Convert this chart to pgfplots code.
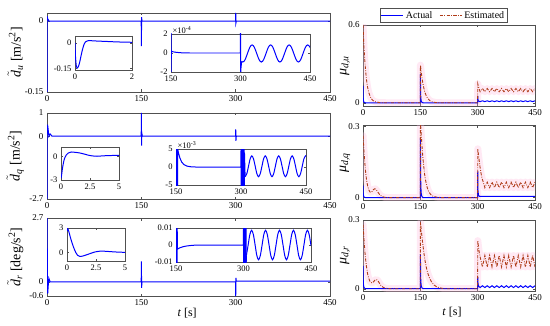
\documentclass[border=0pt]{standalone}
\usepackage{fontspec}
\setmainfont{Liberation Serif}
\usepackage{pgfplots}
\usepackage{pgfplotstable}
\pgfplotsset{compat=1.18}
\definecolor{est}{RGB}{175,60,25}
\definecolor{bandc}{RGB}{255,185,220}
\definecolor{frm}{RGB}{80,80,80}

\pgfplotstableread{
t v
0 0.6
1 0.53
2 0.46
3 0.4
5 0.31
7 0.24
9 0.18
12 0.12
15 0.08
18 0.055
21 0.035
25 0.02
30 0.01
35 0.005
45 0.001
60 0
149.8 0
150.3 0.29
151 0.27
153 0.22
156 0.16
159 0.115
162 0.08
166 0.05
170 0.03
175 0.016
180 0.008
190 0.002
205 0
299.8 0
300.3 0.145
302 0.125
304 0.105
306.25 0.085
312.5 0.11
318.75 0.085
325 0.11
331.25 0.085
337.5 0.11
343.75 0.085
350 0.11
356.25 0.085
362.5 0.11
368.75 0.085
375 0.11
381.25 0.085
387.5 0.11
393.75 0.085
400 0.11
406.25 0.085
412.5 0.11
418.75 0.085
425 0.11
431.25 0.085
437.5 0.11
443.75 0.085
450 0.11
}\estA

\pgfplotstableread{
t v
0 0.26
1 0.235
2 0.21
3 0.185
5 0.14
7 0.105
9 0.078
12 0.05
15 0.033
18 0.024
21 0.022
24 0.026
27 0.033
30 0.037
33 0.036
37 0.028
41 0.018
45 0.01
50 0.005
57 0.001
70 0
149.8 0
150.3 0.315
151 0.3
153 0.25
155 0.2
158 0.145
161 0.1
164 0.07
168 0.042
172 0.025
177 0.013
183 0.006
192 0.002
205 0
299.8 0
300.3 0.205
302 0.18
304 0.155
306 0.13
309 0.1
312 0.078
315 0.063
318.75 0.042
325 0.065
331.25 0.042
337.5 0.065
343.75 0.042
350 0.065
356.25 0.042
362.5 0.065
368.75 0.042
375 0.065
381.25 0.042
387.5 0.065
393.75 0.042
400 0.065
406.25 0.042
412.5 0.065
418.75 0.042
425 0.065
431.25 0.042
437.5 0.065
443.75 0.042
450 0.065
}\estB

\pgfplotstableread{
t v
0 0.28
1 0.255
2 0.23
3 0.205
5 0.16
7 0.125
9 0.097
12 0.065
15 0.045
18 0.033
21 0.027
24 0.025
27 0.03
31 0.037
35 0.04
39 0.035
43 0.024
47 0.014
52 0.007
57 0.003
70 0
149.8 0
150.3 0.29
151 0.28
153 0.245
156 0.2
159 0.16
162 0.125
166 0.09
170 0.065
175 0.043
180 0.028
186 0.016
193 0.008
200 0.004
210 0.001
220 0
299.8 0
300.3 0.21
302 0.185
304 0.16
306.25 0.14
312.5 0.095
318.75 0.145
325 0.095
331.25 0.145
337.5 0.095
343.75 0.145
350 0.095
356.25 0.145
362.5 0.095
368.75 0.145
375 0.095
381.25 0.145
387.5 0.095
393.75 0.145
400 0.095
406.25 0.145
412.5 0.095
418.75 0.145
425 0.095
431.25 0.145
437.5 0.095
443.75 0.145
450 0.095
}\estC

\pgfplotsset{
  base/.style={scale only axis, enlargelimits=false, clip=true,
    axis line style={frm, line width=0.5pt},
    tick style={frm, line width=0.4pt}, tick align=inside,
    major tick length=2.5bp,
    /pgf/number format/assume math mode=true,
    every tick label/.append style={font=\fontsize{9}{10}\selectfont, text=black},
    axis background/.style={fill=white},
    ylabel style={font=\fontsize{14}{15}\selectfont},
    xlabel style={font=\fontsize{12}{13}\selectfont}},
  main/.style={base, xmin=0, xmax=450, xtick={0,150,300,450}, xticklabels={0,150,300,450}},
  inset/.style={base, major tick length=2bp,
    every tick label/.append style={font=\fontsize{8.5}{9}\selectfont}},
  bl/.style={blue, line width=1pt},
  es/.style={est, line width=0.9pt, dash pattern=on 3.2bp off 1.4bp on 0.8bp off 1.4bp},
  bd/.style={bandc, line width=7bp, opacity=0.3, line join=round, line cap=round, forget plot},
}

\begin{document}
\begin{tikzpicture}[x=1bp,y=1bp]
\useasboundingbox (0,0) rectangle (550,325);

% ---------------- Left panel 1 ----------------
\begin{axis}[main, at={(47bp,233bp)}, anchor=south west, width=283bp, height=79bp,
  ymin=-0.15, ymax=0.017, ytick={-0.15,0}, yticklabels={-0.15,0},
  ylabel={$\tilde{\mathit{d}}_{\mathit{u}}$ [m/s\textsuperscript{2}]},
  ylabel style={at={(axis description cs:-0.112,0.5)}, anchor=center}]
\addplot[bl] coordinates {(0,0.008)(0.05,-0.15)(0.3,0.01)(1,0.005)(3,0)(149.8,0)(150.1,-0.053)(150.4,0.008)(151,0)(299.8,0)(300.1,0.017)(300.4,-0.004)(301,0)(450,0)};
\end{axis}
\begin{axis}[inset, at={(75bp,255bp)}, anchor=south west, width=57bp, height=34bp,
  xmin=0, xmax=2, ymin=-0.16, ymax=0.04, xtick={0,2}, xticklabels={0,2},
  ytick={-0.15,0}, yticklabels={-0.15,0}]
\addplot[bl, smooth] coordinates {(0,0)(0.02,-0.09)(0.05,-0.14)(0.08,-0.148)(0.12,-0.14)(0.17,-0.11)(0.22,-0.07)(0.27,-0.035)(0.32,-0.008)(0.37,0.006)(0.45,0.012)(0.6,0.012)(0.8,0.01)(1.1,0.008)(1.5,0.005)(2,0.003)};
\end{axis}
\begin{axis}[inset, name=p1i2, at={(171bp,253bp)}, anchor=south west, width=139bp, height=38bp,
  xmin=150, xmax=450, ymin=-2, ymax=2, xtick={150,300,450}, xticklabels={150,300,450},
  ytick={-2,0,2}, yticklabels={-2,0,2}]
\addplot[bl] coordinates {(150,-2.5)(150.2,2.5)(150.4,-2.5)(150.6,0.3)(152,0.15)(155,0.12)(160,0.08)(170,0.03)(180,0.01)(190,0)(299.9,0)(300,2.5)(300.3,-2.5)(301,-1.6)(302.5,-0.88)};
\addplot[bl, smooth] coordinates {(302.5,-0.88)(305,-0.95)(307.5,-0.88)(310,-0.69)(312.5,-0.39)(315,-0.05)(317.5,0.29)(320,0.59)(322.5,0.78)(325,0.85)(327.5,0.78)(330,0.59)(332.5,0.29)(335,-0.05)(337.5,-0.39)(340,-0.69)(342.5,-0.88)(345,-0.95)(347.5,-0.88)(350,-0.69)(352.5,-0.39)(355,-0.05)(357.5,0.29)(360,0.59)(362.5,0.78)(365,0.85)(367.5,0.78)(370,0.59)(372.5,0.29)(375,-0.05)(377.5,-0.39)(380,-0.69)(382.5,-0.88)(385,-0.95)(387.5,-0.88)(390,-0.69)(392.5,-0.39)(395,-0.05)(397.5,0.29)(400,0.59)(402.5,0.78)(405,0.85)(407.5,0.78)(410,0.59)(412.5,0.29)(415,-0.05)(417.5,-0.39)(420,-0.69)(422.5,-0.88)(425,-0.95)(427.5,-0.88)(430,-0.69)(432.5,-0.39)(435,-0.05)(437.5,0.29)(440,0.59)(442.5,0.78)(445,0.85)(447.5,0.78)(450,0.59)};
\end{axis}
\node[anchor=south west, inner sep=0.5bp, font=\fontsize{8.5}{9}\selectfont] at ([xshift=1bp]p1i2.north west) {×10\textsuperscript{-4}};

% ---------------- Left panel 2 ----------------
\begin{axis}[main, at={(47bp,126bp)}, anchor=south west, width=283bp, height=86bp,
  ymin=-2.7, ymax=1, ytick={-2.7,0,1}, yticklabels={-2.7,0,1},
  ylabel={$\tilde{\mathit{d}}_{\mathit{q}}$ [m/s\textsuperscript{2}]},
  ylabel style={at={(axis description cs:-0.112,0.5)}, anchor=center}]
\addplot[bl] coordinates {(0,-2.7)(0.4,0.1)(0.9,0.5)(2,0.25)(3,0)(5,0.1)(8,0)(149.8,0)(150.1,1)(150.4,-0.4)(150.8,0.15)(151.5,0)(299.8,0)(300.1,0.3)(300.4,-0.2)(301,0)(450,0)};
\end{axis}
\begin{axis}[inset, at={(61bp,145bp)}, anchor=south west, width=58bp, height=33bp,
  xmin=0, xmax=5, ymin=-3, ymax=1.17, xtick={0,2.5,5}, xticklabels={0,2.5,5},
  ytick={-3,0}, yticklabels={-3,0}]
\addplot[bl, smooth] coordinates {(0,-2.8)(0.05,-2.4)(0.1,-1.8)(0.2,-0.9)(0.3,-0.3)(0.45,0.15)(0.6,0.38)(0.9,0.54)(1.2,0.5)(1.6,0.42)(2,0.28)(2.4,0.12)(2.8,0.03)(3.1,0.0)(3.5,0.04)(4,0.08)(4.5,0.1)(5,0.1)};
\end{axis}
\begin{axis}[inset, name=p2i2, at={(176bp,140bp)}, anchor=south west, width=130bp, height=36bp,
  xmin=150, xmax=450, ymin=-5, ymax=5, xtick={150,300,450}, xticklabels={150,300,450},
  ytick={-5,0,5}, yticklabels={-5,0,5}]
\addplot[bl] coordinates {(150,-5.5)(150.3,5.5)(150.6,-5.5)(150.9,5.5)(151.2,-5.5)(151.5,5.5)(151.8,-5.5)(152.1,5.5)(152.4,-5.5)(152.7,5.5)(153,-5.5)(153.3,5.5)(153.6,-5.5)(154,5)(156,3.8)(159,2.5)(163,1.4)(168,0.7)(175,0.25)(185,0.05)(195,0)(299.9,0)(300,5.5)(300.4,-5.5)(300.8,5.5)(301.2,-5.5)(301.6,5.5)(302,-5.5)(302.4,5.5)(302.8,-5.5)(303.2,5.5)(303.6,-5.5)(304,5.5)(304.4,-5.5)(304.8,5.5)(305.2,-5.5)(305.6,5.5)(306,-5.5)(306.4,5.5)(306.8,-5.5)(307.2,5.5)(307.6,-5.5)(308,4)(309.5,-2.7)};
\addplot[bl, smooth] coordinates {(309.5,-2.7)(313.4,-1.85)(317.3,0.2)(321.1,2.25)(325,3.1)(328.9,2.25)(332.8,0.2)(336.6,-1.85)(340.5,-2.7)(344.4,-1.85)(348.3,0.2)(352.1,2.25)(356,3.1)(359.9,2.25)(363.8,0.2)(367.6,-1.85)(371.5,-2.7)(375.4,-1.85)(379.3,0.2)(383.1,2.25)(387,3.1)(390.9,2.25)(394.8,0.2)(398.6,-1.85)(402.5,-2.7)(406.4,-1.85)(410.3,0.2)(414.1,2.25)(418,3.1)(421.9,2.25)(425.8,0.2)(429.6,-1.85)(433.5,-2.7)(437.4,-1.85)(441.3,0.2)(445.1,2.25)(449,3.1)(450,3.0)};
\end{axis}
\node[anchor=south west, inner sep=0.5bp, font=\fontsize{8.5}{9}\selectfont] at ([xshift=1bp]p2i2.north west) {×10\textsuperscript{-3}};

% ---------------- Left panel 3 ----------------
\begin{axis}[main, at={(47bp,29bp)}, anchor=south west, width=283bp, height=78bp,
  ymin=-0.6, ymax=2.7, ytick={-0.6,0,2.7}, yticklabels={-0.6,0,2.7},
  ylabel={$\tilde{\mathit{d}}_{\mathit{r}}$ [deg/s\textsuperscript{2}]},
  ylabel style={at={(axis description cs:-0.112,0.5)}, anchor=center},
  xlabel={\textit{t} [s]},
  xlabel style={at={(axis description cs:0.495,-0.218)}, anchor=center}]
\addplot[bl] coordinates {(0,-0.5)(0.05,2.7)(0.3,1.8)(0.75,0)(1.1,-0.5)(2,-0.15)(2.9,0.15)(5,0)(149.8,0)(150.1,0.86)(150.4,-0.26)(151,0)(299.8,0)(300.1,-0.6)(300.4,0.17)(301,0.03)(450,0.03)};
\end{axis}
\begin{axis}[inset, at={(67bp,64bp)}, anchor=south west, width=58bp, height=33bp,
  xmin=0, xmax=5, ymin=-1.07, ymax=3, xtick={0,2.5,5}, xticklabels={0,2.5,5},
  ytick={0,3}, yticklabels={0,3}]
\addplot[bl, smooth] coordinates {(0,2.6)(0.05,2.95)(0.15,2.6)(0.3,1.8)(0.45,1.1)(0.6,0.5)(0.75,0.0)(0.9,-0.35)(1.1,-0.5)(1.3,-0.48)(1.6,-0.35)(2,-0.15)(2.4,0.04)(2.9,0.15)(3.4,0.12)(4,0.06)(4.5,0.02)(5,0.0)};
\end{axis}
\begin{axis}[inset, at={(176bp,63bp)}, anchor=south west, width=135bp, height=34bp,
  xmin=150, xmax=450, ymin=-10, ymax=10, xtick={150,300,450}, xticklabels={150,300,450},
  ytick={-10,0,10}, yticklabels={-0.01,0,0.01}]
\addplot[bl] coordinates {(150,-11)(150.3,11)(150.6,-11)(150.9,11)(151.2,-11)(151.5,11)(151.8,-11)(152.1,11)(152.4,-11)(152.7,11)(153,-2.5)(156,-2)(160,-1.5)(166,-1)(173,-0.6)(182,-0.3)(192,-0.1)(200,0)(299.9,0)(300,11)(300.4,-11)(300.8,11)(301.2,-11)(301.6,11)(302,-11)(302.4,11)(302.8,-11)(303.2,11)(303.6,-11)(304,11)(304.4,-11)(304.8,11)(305.2,-11)(305.6,11)(306,-11)(306.4,-6.15)};
\addplot[bl, smooth] coordinates {(306.4,-6.15)(310.3,0)(314.1,6.15)(318,8.7)(321.9,6.15)(325.8,0)(329.6,-6.15)(333.5,-8.7)(337.4,-6.15)(341.3,0)(345.1,6.15)(349,8.7)(352.9,6.15)(356.8,0)(360.6,-6.15)(364.5,-8.7)(368.4,-6.15)(372.3,0)(376.1,6.15)(380,8.7)(383.9,6.15)(387.8,0)(391.6,-6.15)(395.5,-8.7)(399.4,-6.15)(403.3,0)(407.1,6.15)(411,8.7)(414.9,6.15)(418.8,0)(422.6,-6.15)(426.5,-8.7)(430.4,-6.15)(434.3,0)(438.1,6.15)(442,8.7)(445.9,6.15)(449.8,0)(450,-0.2)};
\end{axis}

% ---------------- Right panel 1 ----------------
\begin{axis}[main, at={(363bp,219bp)}, anchor=south west, width=172bp, height=81bp,
  ymin=-0.025, ymax=0.6, ytick={0,0.6}, yticklabels={0,0.6},
  ylabel={\textit{μ}\textsubscript{\textit{d,u}}},
  ylabel style={at={(axis description cs:-0.105,0.5)}, anchor=center},
  legend columns=2,
  legend style={at={(axis description cs:0.468,1.025)}, anchor=south,
    font=\fontsize{10}{11}\selectfont, draw=frm, line width=0.5pt,
    inner sep=1bp, row sep=-1bp,
    /tikz/every even column/.append style={column sep=5bp}},
  legend image code/.code={\draw[#1] (0bp,0bp) -- (22bp,0bp);}]
\addplot[bd] table[x=t,y=v] {\estA};
\addplot[bl] coordinates {(0,0.13)(0.5,0.04)(1.5,0.01)(3,0.003)(6,0)(149.8,0)(150.2,0.22)(150.8,0.06)(152,0.015)(154,0.003)(157,0)(299.8,0)(300.2,0.05)(301,0.02)(303,0.012)(306.25,0.009)(312.5,0.015)(318.75,0.009)(325,0.015)(331.25,0.009)(337.5,0.015)(343.75,0.009)(350,0.015)(356.25,0.009)(362.5,0.015)(368.75,0.009)(375,0.015)(381.25,0.009)(387.5,0.015)(393.75,0.009)(400,0.015)(406.25,0.009)(412.5,0.015)(418.75,0.009)(425,0.015)(431.25,0.009)(437.5,0.015)(443.75,0.009)(450,0.015)};
\addlegendentry{Actual}
\addplot[es] table[x=t,y=v] {\estA};
\addlegendentry{Estimated}
\end{axis}

% ---------------- Right panel 2 ----------------
\begin{axis}[main, at={(363bp,125bp)}, anchor=south west, width=172bp, height=75bp,
  ymin=-0.01, ymax=0.305, ytick={0,0.3}, yticklabels={0,0.3},
  ylabel={\textit{μ}\textsubscript{\textit{d,q}}},
  ylabel style={at={(axis description cs:-0.105,0.5)}, anchor=center}]
\addplot[bd] table[x=t,y=v] {\estB};
\addplot[bl] coordinates {(0,0.05)(0.5,0.02)(1.5,0.006)(3,0.002)(6,0)(149.8,0)(150.2,0.25)(150.8,0.08)(152,0.02)(154,0.005)(157,0)(299.8,0)(300.2,0.11)(300.8,0.03)(302,0.01)(305,0.005)(450,0.005)};
\addplot[es] table[x=t,y=v] {\estB};
\end{axis}

% ---------------- Right panel 3 ----------------
\begin{axis}[main, at={(363bp,34bp)}, anchor=south west, width=172bp, height=71bp,
  ymin=-0.01, ymax=0.3, ytick={0,0.3}, yticklabels={0,0.3},
  ylabel={\textit{μ}\textsubscript{\textit{d,r}}},
  ylabel style={at={(axis description cs:-0.105,0.5)}, anchor=center},
  xlabel={\textit{t} [s]},
  xlabel style={at={(axis description cs:0.517,-0.296)}, anchor=center}]
\addplot[bd] table[x=t,y=v] {\estC};
\addplot[bl] coordinates {(0,0.1)(0.5,0.04)(1.5,0.012)(3,0.004)(6,0)(149.8,0)(150.2,0.15)(150.8,0.05)(152,0.015)(154,0.004)(157,0)(299.8,0)(300.2,0.05)(301,0.02)(303,0.01)(306.25,0.005)(312.5,0.013)(318.75,0.005)(325,0.013)(331.25,0.005)(337.5,0.013)(343.75,0.005)(350,0.013)(356.25,0.005)(362.5,0.013)(368.75,0.005)(375,0.013)(381.25,0.005)(387.5,0.013)(393.75,0.005)(400,0.013)(406.25,0.005)(412.5,0.013)(418.75,0.005)(425,0.013)(431.25,0.005)(437.5,0.013)(443.75,0.005)(450,0.013)};
\addplot[es] table[x=t,y=v] {\estC};
\end{axis}
\end{tikzpicture}
\end{document}
